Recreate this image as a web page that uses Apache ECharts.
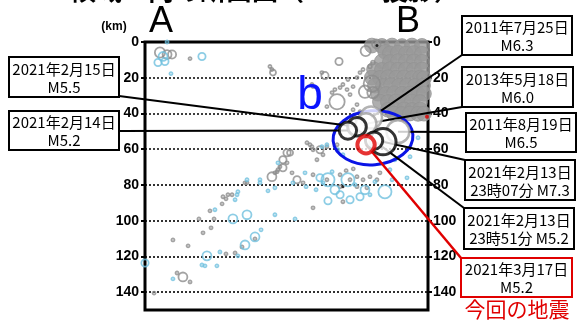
<!DOCTYPE html>
<html><head><meta charset="utf-8">
<script src="https://cdn.jsdelivr.net/npm/echarts@6/dist/echarts.min.js"></script>
<style>html,body{margin:0;padding:0;background:#fff}#c{width:580px;height:322px}</style>
</head><body><div id="c"></div>
<script>
// ---- data: [distance along A-B (km), depth (km), magnitude] ----
const depthTicks = [0, 20, 40, 60, 80, 100, 120, 140];
const titleText = '領域ａ内の断面図（Ａ－Ｂ投影）';
const endA = 'A', endB = 'B';

const clusterQuakes = [
 [127.5,2.0,4.6],[133.1,2.2,4.6],[138.8,2.0,4.6],[144.4,2.3,4.6],[150.0,2.0,4.6],[155.6,2.2,4.6],
 [135.0,5.5,4.6],[137.6,6.4,4.6],[142.1,6.0,4.6],[146.6,6.5,4.6],[151.1,6.2,4.6],[155.6,6.6,4.6],
 [133.1,10.9,4.6],[137.6,11.2,4.6],[142.1,10.7,4.6],[146.6,11.0,4.6],[151.1,10.8,4.6],[155.6,11.1,4.6],
 [128.7,15.4,4.6],[133.1,15.6,4.6],[137.6,15.2,4.6],[142.1,15.5,4.6],[146.6,15.3,4.6],[151.1,15.6,4.6],[155.6,15.4,4.6],
 [127.5,19.9,4.6],[132.0,20.1,4.6],[136.5,19.7,4.6],[141.0,20.0,4.6],[145.5,19.8,4.6],[150.0,20.2,4.6],[154.5,19.9,4.6],[156.7,20.3,4.6],
 [129.2,24.4,4.6],[133.7,24.6,4.6],[138.2,24.2,4.6],[142.7,24.5,4.6],[147.2,24.3,4.6],[151.7,24.6,4.6],[156.2,24.4,4.6],
 [130.9,28.9,4.6],[135.4,29.1,4.6],[139.9,28.7,4.6],[144.4,29.0,4.6],[148.9,28.8,4.6],[153.4,29.1,4.6],[156.7,28.9,4.6],
 [132.0,33.4,4.6],[136.5,33.6,4.6],[141.0,33.2,4.6],[145.5,33.5,4.6],[150.0,33.3,4.6],[154.5,33.6,4.6],
 [136.5,37.9,4.6],[141.0,38.1,4.6],[145.5,37.7,4.6],[150.0,38.0,4.6],[154.5,37.8,4.6],
 [139.9,40.1,4.6],[144.4,40.3,4.6],[148.9,40.0,4.6],[153.4,40.2,4.6],[156.7,40.1,4.6]
];

const grayQuakes = [
 [8.4,5.9,3.5],[12.4,7.0,3.2],[15.2,7.0,3.0],[25.3,9.3,1.5],[70.2,13.7,1.5],[71.9,17.1,2.5],[71.3,15.4,1.5],
 [94.4,25.0,1.5],[109.0,10.9,2.8],[101.1,18.8,2.8],[99.4,17.1,1.5],[105.1,28.3,1.5],[106.7,26.6,1.5],
 [109.6,25.5,1.5],[111.2,23.8,1.5],[113.5,26.6,1.5],[115.2,29.4,1.5],[116.9,25.0,1.5],[114.0,21.0,1.5],
 [119.1,19.9,1.5],[120.8,17.1,1.5],[122.5,15.4,1.5],[126.4,13.7,2],[128.1,11.5,2],[127.5,23.3,5.0],
 [107.9,33.4,4.7],[102.2,36.2,1.5],[119.1,35.0,1.5],[93.8,23.8,1.5],[128.1,28.3,3.8],[120.8,39.0,1.5],
 [116.9,37.9,1.5],[123.6,27.8,4.0],[124.0,5.0,3.5],[130.0,1.0,3.2],
 [91.0,56.4,1.5],[93.8,58.6,1.5],[98.3,60.3,2.8],[100.0,63.1,1.5],[102.2,58.6,1.5],[96.6,65.9,1.5],
 [79.8,62.0,2.8],[77.5,65.9,2.8],[75.8,69.8,1.5],[71.3,75.4,3.2],[74.2,72.6,1.5],[82.6,73.2,1.5],
 [85.4,77.1,2.8],[88.8,78.8,1.5],[94.4,74.3,1.5],[102.2,77.1,1.5],[109.6,81.0,1.5],[115.2,77.1,1.5],
 [119.1,75.4,1.5],[122.5,77.1,1.5],[126.4,75.4,1.5],[130.3,77.1,1.5],[132.0,73.2,1.5],[119.1,81.0,1.5],
 [124.7,81.6,1.5],[57.3,78.8,1.5],[46.6,85.5,1.5],[43.8,86.6,1.5],[81.5,62.0,2.5],[92.7,57.5,1.5],
 [94.4,60.3,1.5],[107.9,57.5,1.5],[73.0,73.2,1.5],[74.7,71.5,1.5],[77.5,70.4,2.8],[79.8,67.6,1.5],
 [5.1,140.5,1.5],[21.3,131.5,3.2],[18.0,129.3,1.5],[25.3,134.3,1.5],[15.7,110.8,1.5],[24.2,114.1,1.5],
 [45.5,118.6,1.5],[50.6,118.1,1.5],[54.5,114.7,1.5],[61.8,110.2,1.5],[30.3,99.0,1.5],[38.8,99.0,1.5],
 [36.5,94.5,1.5],[32.6,106.8,1.5],[37.1,104.0,1.5],[43.3,90.6,1.5],[45.5,87.8,1.5],[48.9,85.5,1.5],
 [56.2,78.8,1.5],[94.4,92.8,1.5],[109.6,74.3,1.5],[111.2,89.4,1.5],[113.0,72.0,1.5],[117.0,71.0,1.5]
];

const blueQuakes = [
 [7.3,11.5,2.8],[11.2,10.9,2.8],[12.4,0.0,1.3],[14.6,17.7,1.5],[32.0,8.1,2.8],[10.1,8.1,3.2],
 [15.7,132.6,1.5],[34.8,119.7,3.2],[32.0,124.8,1.5],[33.7,125.3,1.5],[40.4,125.3,1.5],[42.1,117.5,1.5],
 [52.2,119.7,1.5],[56.2,113.6,3.2],[61.8,109.1,3.2],[65.2,105.1,1.5],[49.4,99.0,3.2],[57.3,96.7,3.2],
 [73.0,96.7,1.5],[84.3,99.0,1.5],[39.3,93.9,1.5],[51.7,85.5,1.5],[52.2,83.8,1.5],[50.6,88.3,1.5],
 [57.3,77.1,1.5],[64.6,77.1,1.5],[64.6,78.8,1.5],[69.1,83.3,1.5],[73.0,81.6,1.5],[90.5,81.0,1.5],
 [0.0,123.7,2.8],
 [102.8,77.1,4.2],[114.0,77.1,4.2],[134.8,83.8,4.2],[120.8,86.6,2.8],[102.8,88.9,2.8],[106.7,82.7,3.2],
 [118.0,79.9,1.5],[123.6,82.7,3.2],[129.2,78.2,1.5],[109.6,85.5,2.8],[115.2,88.3,2.8],[126.4,85.5,1.5],
 [98.3,76.0,2.8],[96.1,82.7,1.5],[105.1,72.6,1.5],[147.2,76.0,1.5],[99.4,58.6,1.5],[102.2,57.5,1.5],
 [74.7,67.6,1.5],[153.4,53.6,1.5],[148.9,64.2,1.5],[140.4,65.9,1.5],[108.4,60.3,1.5],[111.2,63.1,1.5],
 [83.1,78.8,1.5],[100.0,78.8,1.5],[89.9,73.2,1.5],[137.6,71.5,1.5],[138.8,77.1,1.5]
];

const blackQuakes = [[130.3,2.0,1.5],[111.2,81.0,1.5]];
const redSmallQuakes = [[158.4,41.8,1.5],[145.0,43.5,1.5]];

// labelled events
const eventLabels = ['2011年7月25日\nM6.3','2013年5月18日\nM6.0','2011年8月19日\nM6.5',
 '2021年2月15日\nM5.5','2021年2月14日\nM5.2','2021年2月13日\n23時07分 M7.3','2021年2月13日\n23時51分 M5.2',
 '2021年3月17日\nM5.2'];
const eventDist  = [127.0, 124.2, 142.1, 119.1, 114.0, 133.7, 128.7, 124.2];
const eventDepth = [42.3, 45.7, 50.2, 47.4, 49.6, 55.8, 55.2, 57.5];
const eventMag   = [6.3, 6.0, 6.5, 5.5, 5.2, 7.3, 5.2, 5.2];
const eventKind  = ['past','past','past','recent','recent','recent','recent','current'];
const currentCaption = '今回の地震';
const regionName = 'b';
const regionCenter = [128.1, 53.6];

// ---- layout (pixels) ----
const boxLayout = [
 {x:462,y:16,w:110,h:39, ax:462,ay:55},
 {x:462,y:67,w:111,h:40, ax:462,ay:107},
 {x:466,y:113,w:110,h:39, ax:466,ay:132},
 {x:9,y:57,w:110,h:40, ax:119,ay:96},
 {x:9,y:111,w:110,h:39, ax:119,ay:131},
 {x:465,y:160,w:110,h:40, ax:465,ay:160},
 {x:464,y:208,w:110,h:41, ax:464,ay:208},
 {x:461,y:258,w:111,h:39, ax:461,ay:258}
];

function msize(m){ return Math.max(3, 4.2*m - 4.5); }
function evData(kind){
  const out=[];
  for(let i=0;i<eventMag.length;i++) if(eventKind[i]===kind) out.push([eventDist[i],eventDepth[i],eventMag[i]]);
  return out;
}

const chart = echarts.init(document.getElementById('c'), null, {renderer:'canvas'});
const labelStyle = {color:'#000', fontSize:14, fontWeight:'bold', fontFamily:'Liberation Sans, Arial, sans-serif'};
const yBase = {
  type:'value', inverse:true, min:0, max:150, interval:20,
  axisLine:{show:false},
  axisTick:{show:true, length:4, lineStyle:{color:'#000', width:2}},
  axisLabel: Object.assign({showMaxLabel:false, formatter:v=> depthTicks.indexOf(v)>=0 ? String(v) : ''}, labelStyle)
};
const ringSeries = (name, data, color, z) => ({
  type:'scatter', name, data, z, symbol:'circle', symbolSize:v=>msize(v[2]),
  itemStyle:{color:'rgba(255,255,255,0)', borderColor:color, borderWidth:1.8}, silent:true
});

chart.setOption({
  animation:false,
  grid:{left:145, top:42, width:283, height:268, show:true, borderColor:'#000', borderWidth:3, backgroundColor:'transparent'},
  xAxis:{type:'value', min:0, max:159, show:false},
  yAxis:[
    Object.assign({}, yBase, {position:'left', axisLabel:Object.assign({}, yBase.axisLabel,{margin:6}),
      splitLine:{show:true, lineStyle:{color:'#000', type:[2,2], width:1.6}}}),
    Object.assign({}, yBase, {position:'right', axisLabel:Object.assign({}, yBase.axisLabel,{margin:5}), splitLine:{show:false}})
  ],
  series:[
    {type:'scatter', data:clusterQuakes, z:2, symbolSize:v=>msize(v[2]),
      itemStyle:{color:'#9a9a9a', borderColor:'#939393', borderWidth:1}, silent:true},
    ringSeries('gray', grayQuakes, '#8c8c8c', 3),
    ringSeries('blue', blueQuakes, '#70c0de', 3),
    {type:'scatter', data:blackQuakes, z:3, symbolSize:v=>msize(v[2]), itemStyle:{color:'#000'}},
    {type:'scatter', data:redSmallQuakes, z:3, symbolSize:v=>msize(v[2])+1, itemStyle:{color:'#e00000'}},
    {type:'scatter', data:evData('past'), z:10, symbolSize:v=>msize(v[2]),
      itemStyle:{color:'#fff', borderColor:'#a0a0a0', borderWidth:2.5}},
    {type:'scatter', data:evData('recent'), z:11, symbolSize:v=>msize(v[2]),
      itemStyle:{color:'#fff', borderColor:'#000', borderWidth:3}},
    {type:'scatter', data:evData('current'), z:12, symbolSize:v=>msize(v[2]),
      itemStyle:{color:'#fff', borderColor:'#e00000', borderWidth:4}}
  ]
});

const px = p => chart.convertToPixel({xAxisIndex:0, yAxisIndex:0}, p);
const g = [];
// title (cut off at top, as in the reference)
g.push({type:'text', z:30, style:{text:titleText, x:265, y:-23, fill:'#000', font:'bold 26px "Noto Sans CJK JP"', align:'center', textAlign:'center'}});
g.push({type:'text', z:30, style:{text:endA, x:161, y:4, fill:'#000', font:'36px "Liberation Sans"', align:'center', textAlign:'center'}});
g.push({type:'text', z:30, style:{text:endB, x:408, y:4, fill:'#000', font:'36px "Liberation Sans"', align:'center', textAlign:'center'}});
g.push({type:'text', z:30, style:{text:'(km)', x:114, y:21, fill:'#000', font:'bold 12px "Liberation Sans"', align:'center', textAlign:'center'}});
// region ellipse + letter
const ec = px(regionCenter);
g.push({type:'ellipse', z:4, x:ec[0], y:ec[1], rotation:0.08, shape:{cx:0, cy:0, rx:40, ry:27},
  style:{fill:'none', stroke:'#0a14e6', lineWidth:3}});
g.push({type:'text', z:4, style:{text:regionName, x:310, y:73, fill:'#0a14ff', font:'46px "Liberation Sans"', align:'center', textAlign:'center'}});
// leader lines + boxes
for(let i=0;i<eventLabels.length;i++){
  const b = boxLayout[i], p = px([eventDist[i], eventDepth[i]]);
  const isCur = eventKind[i]==='current';
  const col = isCur ? '#e00000' : '#000';
  g.push({type:'line', z:5, shape:{x1:b.ax, y1:b.ay, x2:p[0], y2:p[1]}, style:{stroke:col, lineWidth:isCur?2.5:2}});
  g.push({type:'rect', z:20, shape:{x:b.x, y:b.y, width:b.w, height:b.h}, style:{fill:'#fff', stroke:col, lineWidth:2}});
  g.push({type:'text', z:21, style:{text:eventLabels[i], x:b.x+b.w/2, y:b.y+b.h/2+1, fill:'#000',
    font:'15px "Noto Sans CJK JP"', lineHeight:18, align:'center', textAlign:'center', verticalAlign:'middle', textVerticalAlign:'middle'}});
}
g.push({type:'text', z:21, style:{text:currentCaption, x:517, y:299, fill:'#e00000', font:'21px "Noto Sans CJK JP"', align:'center', textAlign:'center'}});
chart.setOption({graphic:{elements:g}});
</script>
</body></html>
